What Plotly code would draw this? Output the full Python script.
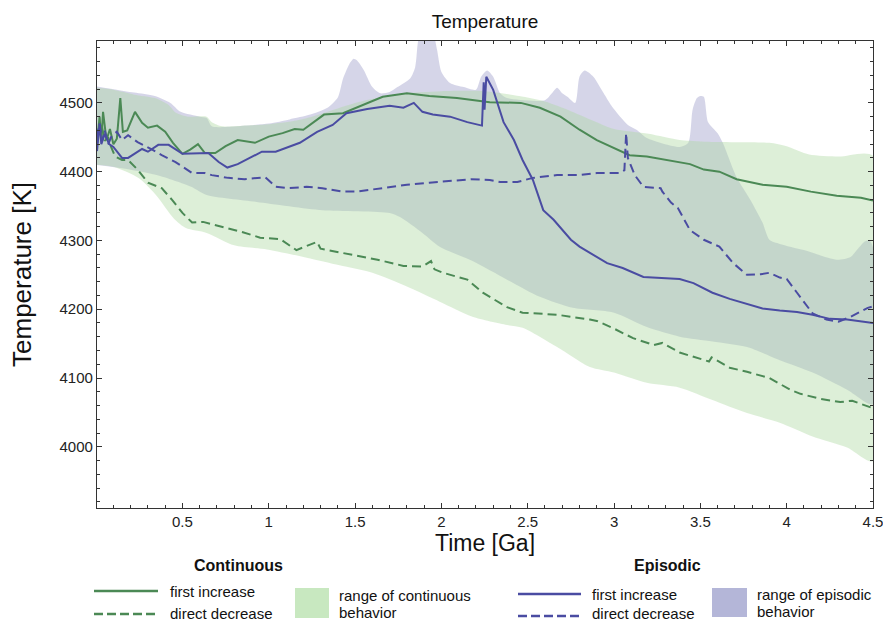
import plotly.graph_objects as go

# ---------------- data (time in Ga, temperature in K) ----------------
cont_inc_t = [0.005, 0.02, 0.03, 0.04, 0.06, 0.08, 0.10, 0.12, 0.14, 0.155, 0.18, 0.225, 0.266, 0.30,
              0.353, 0.40, 0.445, 0.50, 0.545, 0.59, 0.63, 0.69, 0.75, 0.82, 0.92, 1.0, 1.08, 1.15,
              1.2, 1.32, 1.43, 1.55, 1.66, 1.80, 1.93, 2.09, 2.28, 2.46, 2.57, 2.69, 2.80, 2.90, 2.99,
              3.09, 3.19, 3.38, 3.44, 3.52, 3.61, 3.71, 3.86, 4.0, 4.14, 4.29, 4.43, 4.5]
cont_inc_T = [4440, 4480, 4445, 4487, 4446, 4462, 4440, 4448, 4507, 4458, 4460, 4487, 4471, 4464,
              4467, 4458, 4442, 4426, 4432, 4440, 4427, 4427, 4437, 4446, 4442, 4451, 4456, 4462,
              4461, 4483, 4485, 4497, 4509, 4514, 4510, 4507, 4501, 4500, 4493, 4480, 4461, 4446, 4436,
              4424, 4422, 4414, 4411, 4403, 4400, 4389, 4381, 4378, 4371, 4365, 4362, 4358]

cont_dec_t = [0.005, 0.03, 0.05, 0.07, 0.08, 0.11, 0.15, 0.185, 0.24, 0.30, 0.38, 0.44, 0.5, 0.556,
              0.62, 0.73, 0.85, 0.95, 1.066, 1.16, 1.28, 1.30, 1.40, 1.51, 1.63, 1.78, 1.89, 1.94, 1.96,
              2.01, 2.15, 2.24, 2.38, 2.47, 2.67, 2.86, 2.90, 2.99, 3.11, 3.23, 3.28, 3.38, 3.50, 3.55,
              3.565, 3.67, 3.77, 3.90, 4.02, 4.08, 4.19, 4.31, 4.38, 4.5]
cont_dec_T = [4455, 4470, 4445, 4450, 4440, 4422, 4417, 4417, 4403, 4384, 4376, 4359, 4340, 4326,
              4327, 4320, 4312, 4304, 4302, 4286, 4298, 4288, 4283, 4278, 4272, 4263, 4262, 4270, 4258,
              4253, 4243, 4224, 4203, 4195, 4192, 4185, 4183, 4173, 4158, 4148, 4151, 4137, 4128, 4124,
              4130, 4115, 4109, 4100, 4083, 4077, 4070, 4065, 4067, 4056]

epi_inc_t = [0.005, 0.02, 0.03, 0.05, 0.075, 0.10, 0.15, 0.185, 0.266, 0.30, 0.36, 0.42, 0.5, 0.57,
             0.65, 0.71, 0.76, 0.82, 0.90, 0.96, 1.04, 1.11, 1.18, 1.28, 1.37, 1.45, 1.57, 1.70, 1.78,
             1.84, 1.89, 1.95, 2.05, 2.15, 2.235, 2.245, 2.25, 2.26, 2.30, 2.36, 2.42, 2.47, 2.53, 2.59,
             2.65, 2.75, 2.80, 2.96, 3.05, 3.17, 3.27, 3.38, 3.46, 3.57, 3.67, 3.77, 3.86, 3.96, 4.06,
             4.15, 4.25, 4.35, 4.5]
epi_inc_T = [4430, 4470, 4440, 4455, 4440, 4436, 4420, 4420, 4433, 4429, 4439, 4439, 4426, 4426,
             4427, 4414, 4406, 4411, 4421, 4429, 4429, 4436, 4442, 4458, 4468, 4485, 4491, 4496, 4493,
             4500, 4487, 4483, 4480, 4472, 4467, 4530, 4490, 4538, 4519, 4472, 4446, 4417, 4388, 4344,
             4330, 4301, 4291, 4267, 4260, 4247, 4246, 4244, 4238, 4224, 4215, 4208, 4201, 4198, 4196,
             4192, 4186, 4185, 4180]

epi_dec_t = [0.005, 0.02, 0.035, 0.05, 0.07, 0.09, 0.12, 0.15, 0.185, 0.24, 0.325, 0.38, 0.46, 0.556,
             0.63, 0.67, 0.765, 0.86, 0.98, 1.04, 1.11, 1.22, 1.31, 1.43, 1.51, 1.60, 1.70, 1.80, 1.93,
             2.05, 2.17, 2.28, 2.34, 2.44, 2.53, 2.67, 2.80, 2.90, 3.03, 3.06, 3.07, 3.08, 3.12, 3.17,
             3.27, 3.28, 3.33, 3.37, 3.44, 3.52, 3.61, 3.69, 3.77, 3.85, 3.90, 3.96, 4.0, 4.06, 4.15,
             4.23, 4.30, 4.37, 4.47, 4.5]
epi_dec_T = [4450, 4470, 4445, 4460, 4440, 4452, 4458, 4446, 4453, 4443, 4432, 4424, 4414, 4398,
             4398, 4395, 4391, 4389, 4392, 4378, 4376, 4378, 4376, 4371, 4371, 4374, 4378, 4381, 4384,
             4387, 4389, 4388, 4385, 4385, 4391, 4395, 4395, 4398, 4398, 4402, 4456, 4420, 4395, 4378,
             4376, 4371, 4355, 4347, 4315, 4301, 4291, 4267, 4250, 4251, 4253, 4246, 4244, 4224, 4194,
             4185, 4182, 4189, 4202, 4204]

cont_hi_t = [0, 0.1, 0.22, 0.34, 0.42, 0.46, 0.53, 0.64, 0.67, 0.73, 0.87, 1.0, 1.15, 1.25, 1.40,
             1.55, 1.75, 2.0, 2.25, 2.45, 2.6, 2.75, 2.9, 3.0, 3.2, 3.38, 3.5, 3.6, 3.9, 4.0, 4.13,
             4.3, 4.5]
cont_hi_T = [4522, 4519, 4512, 4507, 4497, 4486, 4480, 4480, 4472, 4466, 4467, 4469, 4474, 4480, 4492,
             4503, 4513, 4517, 4517, 4510, 4502, 4488, 4472, 4462, 4455, 4446, 4444, 4443, 4442, 4437,
             4425, 4422, 4423]
cont_lo_t = [0, 0.1, 0.25, 0.35, 0.45, 0.52, 0.64, 0.8, 0.99, 1.22, 1.41, 1.6, 1.8, 1.99, 2.18,
             2.38, 2.47, 2.67, 2.86, 3.0, 3.19, 3.38, 3.57, 3.77, 3.96, 4.15, 4.35, 4.5]
cont_lo_T = [4410, 4407, 4390, 4365, 4332, 4318, 4311, 4293, 4287, 4275, 4264, 4253, 4233, 4211, 4189,
             4177, 4173, 4145, 4116, 4108, 4093, 4086, 4068, 4049, 4035, 4015, 3999, 3979]

epi_hi_t = [0, 0.1, 0.22, 0.34, 0.43, 0.49, 0.6, 0.64, 0.67, 0.75, 1.0, 1.12, 1.24, 1.34, 1.40,
            1.43, 1.47, 1.49, 1.51, 1.55, 1.6, 1.645, 1.70, 1.745, 1.82, 1.848, 1.865, 1.89, 1.92,
            1.95, 1.975, 2.0, 2.05, 2.13, 2.2, 2.23, 2.265, 2.30, 2.34, 2.38, 2.6, 2.64, 2.67, 2.70,
            2.73, 2.775, 2.8, 2.83, 2.88, 2.94, 2.99, 3.08, 3.13, 3.19, 3.38, 3.43, 3.455, 3.48, 3.5,
            3.52, 3.545, 3.6, 3.63, 3.71, 3.79, 3.86, 3.9, 3.96, 4.1, 4.29, 4.37, 4.42, 4.45, 4.48, 4.5]
epi_hi_T = [4524, 4520, 4515, 4510, 4500, 4487, 4480, 4478, 4466, 4465, 4470, 4476, 4483, 4493, 4508,
            4535, 4558, 4564, 4562, 4548, 4523, 4514, 4516, 4523, 4536, 4552, 4590, 4612, 4618,
            4605, 4577, 4545, 4529, 4523, 4519, 4538, 4547, 4538, 4514, 4507, 4504, 4514, 4522, 4514,
            4509, 4500, 4538, 4547, 4538, 4514, 4494, 4468, 4461, 4449, 4436, 4442, 4490, 4507, 4510,
            4509, 4472, 4456, 4442, 4392, 4359, 4326, 4301, 4295, 4286, 4272, 4276, 4290, 4298, 4300, 4290]
epi_lo_t = [0, 0.15, 0.35, 0.55, 0.64, 0.93, 1.31, 1.70, 1.76, 1.89, 1.99, 2.18, 2.38, 2.57, 2.76,
            3.0, 3.19, 3.38, 3.57, 3.77, 3.96, 4.15, 4.35, 4.5]
epi_lo_T = [4410, 4405, 4395, 4378, 4366, 4356, 4344, 4340, 4334, 4311, 4291, 4270, 4243, 4218, 4202,
            4195, 4174, 4160, 4153, 4145, 4126, 4108, 4083, 4062]

x_ticks = [0.5, 1, 1.5, 2, 2.5, 3, 3.5, 4, 4.5]
x_tick_labels = ["0.5", "1", "1.5", "2", "2.5", "3", "3.5", "4", "4.5"]
y_ticks = [4000, 4100, 4200, 4300, 4400, 4500]
y_tick_labels = ["4000", "4100", "4200", "4300", "4400", "4500"]

# ---------------- styling ----------------
GREEN = "#4b8955"
BLUE = "#4a4ca2"
CONT_FILL = "rgba(175,217,162,0.42)"
EPI_FILL = "rgba(150,150,198,0.40)"
FONT = "Liberation Sans, Arial, sans-serif"

fig = go.Figure()

def band(hi_t, hi_T, lo_t, lo_T, color):
    return go.Scatter(x=list(hi_t) + list(lo_t)[::-1], y=list(hi_T) + list(lo_T)[::-1],
                      fill="toself", fillcolor=color, mode="lines",
                      line=dict(width=0, shape="spline", smoothing=0.7),
                      hoverinfo="skip", showlegend=False)

fig.add_trace(band(epi_hi_t, epi_hi_T, epi_lo_t, epi_lo_T, EPI_FILL))
fig.add_trace(band(cont_hi_t, cont_hi_T, cont_lo_t, cont_lo_T, CONT_FILL))

def line(t, T, color, dash):
    return go.Scatter(x=t, y=T, mode="lines", line=dict(color=color, width=2, dash=dash),
                      hoverinfo="skip", showlegend=False)

fig.add_trace(line(cont_inc_t, cont_inc_T, GREEN, "solid"))
fig.add_trace(line(cont_dec_t, cont_dec_T, GREEN, "9px,5px"))
fig.add_trace(line(epi_inc_t, epi_inc_T, BLUE, "solid"))
fig.add_trace(line(epi_dec_t, epi_dec_T, BLUE, "9px,5px"))

# ---------------- layout ----------------
W, H = 883, 622
L, R, TOP, B = 97, 873, 41, 508

def pxx(x):
    return (x - L) / (R - L)

def pyy(y):
    return (B - y) / (B - TOP)

axis_common = dict(showline=True, linecolor="#333333", linewidth=1.3, mirror="ticks",
                   ticks="inside", ticklen=5, tickwidth=1, tickcolor="#333333",
                   showgrid=False, zeroline=False, automargin=False, ticklabeloverflow="allow",
                   tickfont=dict(family=FONT, size=15, color="#222222"))

fig.update_layout(
    width=W, height=H,
    margin=dict(l=L, r=W - R, t=TOP, b=H - B),
    paper_bgcolor="white", plot_bgcolor="white",
    showlegend=False,
    title=dict(text="Temperature", x=0.5, xref="paper", y=1 - 21 / H, yanchor="middle",
               font=dict(family=FONT, size=19, color="#111111")),
    xaxis=dict(range=[0.005, 4.5], tickmode="array", tickvals=x_ticks, ticktext=x_tick_labels,
               minor=dict(tickmode="linear", tick0=0, dtick=0.1, ticklen=3, ticks="inside",
                          tickcolor="#333333"),
               title=dict(text="Time [Ga]", standoff=5,
                          font=dict(family=FONT, size=23, color="#111111")),
               **axis_common),
    yaxis=dict(range=[3911, 4590], tickmode="array", tickvals=y_ticks, ticktext=y_tick_labels,
               minor=dict(tickmode="linear", tick0=4000, dtick=20, ticklen=3, ticks="inside",
                          tickcolor="#333333"),
               title=dict(text="Temperature [K]", standoff=20,
                          font=dict(family=FONT, size=26, color="#111111")),
               **axis_common),
)

# ---------------- custom legend ----------------
shapes = []
annots = []

def text(x, y, s, bold=False, anchor="left", size=15):
    annots.append(dict(x=pxx(x), y=pyy(y), xref="paper", yref="paper", text=(f"<b>{s}</b>" if bold else s),
                       showarrow=False, xanchor=anchor, yanchor="middle",
                       font=dict(family=FONT, size=size, color="#111111")))

def lseg(x0, x1, y, color, dash):
    shapes.append(dict(type="line", xref="paper", yref="paper", x0=pxx(x0), x1=pxx(x1),
                       y0=pyy(y), y1=pyy(y), line=dict(color=color, width=2.5, dash=dash)))

def swatch(x0, x1, y0, y1, color):
    shapes.append(dict(type="rect", xref="paper", yref="paper", x0=pxx(x0), x1=pxx(x1),
                       y0=pyy(y0), y1=pyy(y1), line=dict(width=0), fillcolor=color))

text(238, 565, "Continuous", bold=True, anchor="center", size=16)
lseg(94, 158, 591, GREEN, "solid")
text(168, 591, "first increase")
lseg(94, 158, 614, GREEN, "9px,4px")
text(168, 613, "direct decrease")
swatch(295, 329, 588, 618, "#c8e8c0")
text(337, 595, "range of continuous")
text(337, 612, "behavior")

text(667, 565, "Episodic", bold=True, anchor="center", size=16)
lseg(518, 581, 594, BLUE, "solid")
text(590, 594, "first increase")
lseg(518, 581, 616, BLUE, "9px,4px")
text(590, 613, "direct decrease")
swatch(712, 747, 588, 617, "#b4b6d8")
text(755, 594, "range of episodic")
text(755, 611, "behavior")

fig.update_layout(shapes=shapes, annotations=annots)

fig.write_html("out.html", config=dict(displayModeBar=False))
